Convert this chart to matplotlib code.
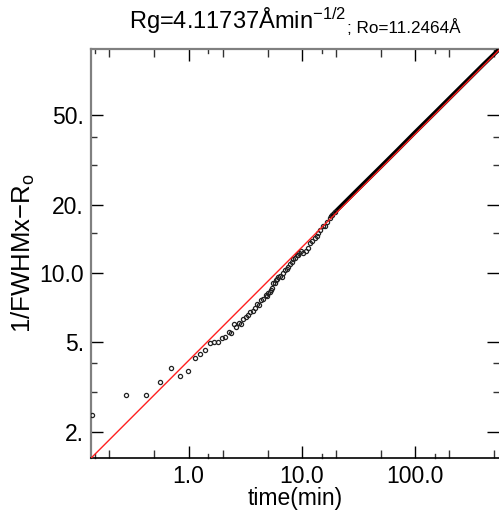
import matplotlib
matplotlib.use("Agg")
import matplotlib.pyplot as plt
import numpy as np
from matplotlib.ticker import FixedLocator, NullFormatter, FixedFormatter

plt.rcParams['font.family'] = ['Liberation Sans', 'DejaVu Sans']
plt.rcParams['mathtext.fontset'] = 'custom'
plt.rcParams['mathtext.rm'] = 'Liberation Sans'
plt.rcParams['mathtext.it'] = 'Liberation Sans:italic'
plt.rcParams['mathtext.bf'] = 'Liberation Sans:bold'

# ---- data ----
# sparse early points (open circles)
t_early = [0.14, 0.28, 0.42, 0.56, 0.70, 0.84, 0.98, 1.13, 1.26, 1.40, 1.54, 1.68,
           1.82, 1.96, 2.11, 2.26, 2.37, 2.50, 2.64, 2.78, 2.92, 3.05, 3.20, 3.37,
           3.49, 3.68, 3.86, 3.99, 4.18, 4.36, 4.57, 4.80, 4.95, 5.06, 5.20, 5.31,
           5.45, 5.61, 5.75, 5.88, 6.05, 6.20, 6.40, 6.64, 6.87, 7.10, 7.35, 7.60,
           7.90, 8.15, 8.40, 8.70, 9.00, 9.25, 9.50, 9.80, 10.3, 10.8, 11.3, 11.8,
           12.4, 13.0, 13.5, 14.0, 14.6, 15.3, 16.0, 16.8, 17.7, 18.6, 19.5]
y_early = [2.37, 2.90, 2.90, 3.33, 3.82, 3.54, 3.70, 4.22, 4.41, 4.59, 4.91, 5.00,
           4.97, 5.18, 5.22, 5.49, 5.46, 5.95, 5.82, 6.05, 6.00, 6.28, 6.39, 6.54,
           6.77, 6.82, 7.01, 7.30, 7.25, 7.62, 7.70, 8.02, 7.95, 8.16, 8.30, 8.44,
           8.60, 9.04, 9.10, 9.34, 9.45, 9.66, 9.75, 9.60, 10.0, 10.3, 10.5, 10.7,
           11.0, 11.25, 11.6, 11.7, 12.1, 12.0, 12.3, 12.5, 12.25, 12.6, 12.9, 13.6,
           13.9, 14.3, 14.6, 15.0, 15.6, 16.1, 16.1, 16.9, 17.5, 18.0, 18.7]

# dense part (points merge into a thick band)
t_dense = [18.0, 20.0, 30.0, 50.0, 70.0, 100.0, 150.0, 200.0, 300.0, 400.0, 550.0]
y_dense = [17.8, 18.8, 23.0, 29.6, 35.0, 41.9, 51.2, 59.1, 72.3, 83.4, 97.3]

# fit parameters
Rg = 4.11737
Ro = 11.2464

xmin, xmax = 0.1378, 550.3
ymin, ymax = 1.531, 97.7

x_major = [1.0, 10.0, 100.0]
x_major_labels = ["1.0", "10.0", "100.0"]
x_minor_mid = [0.2, 0.5, 2.0, 5.0, 20.0, 50.0, 200.0, 500.0]
x_minor_short = [0.15, 1.5, 15.0, 150.0]
y_major = [2.0, 5.0, 10.0, 20.0, 50.0]
y_major_labels = ["2.", "5.", "10.0", "20.", "50."]
y_minor = [3.0, 4.0, 15.0, 30.0, 40.0]

W, H = 499, 518
fig = plt.figure(figsize=(W / 100, H / 100), dpi=100)
ax = fig.add_axes([91 / W, 1 - 458 / H, (499 - 91) / W, (458 - 49) / H])
ax.set_xscale('log')
ax.set_yscale('log')
ax.set_xlim(xmin, xmax)
ax.set_ylim(ymin, ymax)

# fit line
tf = np.array([xmin, xmax])
ax.plot(tf, Rg * tf ** 0.5, color='#ff2020', lw=1.0, zorder=4)

# data
ax.plot(t_dense, y_dense, color='black', lw=3.0, solid_capstyle='round', zorder=3)
ax.plot(t_early, y_early, linestyle='none', marker='o', ms=3.0, mfc='none',
        mec='#222222', mew=0.9, zorder=3)

# ticks
ax.xaxis.set_major_locator(FixedLocator(x_major))
ax.xaxis.set_major_formatter(FixedFormatter(x_major_labels))
ax.xaxis.set_minor_locator(FixedLocator(x_minor_mid))
ax.xaxis.set_minor_formatter(NullFormatter())
ax.yaxis.set_major_locator(FixedLocator(y_major))
ax.yaxis.set_major_formatter(FixedFormatter(y_major_labels))
ax.yaxis.set_minor_locator(FixedLocator(y_minor))
ax.yaxis.set_minor_formatter(NullFormatter())

ax.tick_params(which='major', direction='in', length=8.5, width=1.0, color='black',
               top=True, right=True, labelsize=16.5, pad=5)
ax.tick_params(which='minor', direction='in', length=6, width=1.0, color='#333333',
               top=True, right=True)
ax.tick_params(axis='y', which='minor', length=4.5)
# extra short minor x ticks
for xv in x_minor_short:
    ax.plot([xv, xv], [0, 0.011], transform=ax.get_xaxis_transform(), color='#333333', lw=1.0, clip_on=False)
    ax.plot([xv, xv], [1, 1 - 0.011], transform=ax.get_xaxis_transform(), color='#333333', lw=1.0, clip_on=False)

for s in ['left', 'top']:
    ax.spines[s].set_color('#808080')
    ax.spines[s].set_linewidth(1.6)
ax.spines['bottom'].set_color('black')
ax.spines['bottom'].set_linewidth(1.2)
ax.spines['right'].set_visible(False)

ax.set_xlabel('time(min)', fontsize=16.5, labelpad=-1)
ax.set_ylabel(r'1/FWHMx$-$R$_\mathrm{o}$', fontsize=18.5, labelpad=2)

# title in two parts
split = 346 / W
fig.text(split, 1 - 29 / H, r'Rg=4.11737Åmin$^{\mathrm{-1/2}}$', ha='right', va='baseline', fontsize=17)
fig.text(split + 1 / W, 1 - 33 / H, '; Ro=11.2464Å', ha='left', va='baseline', fontsize=12.3)

fig.savefig('out.png', dpi=100)
